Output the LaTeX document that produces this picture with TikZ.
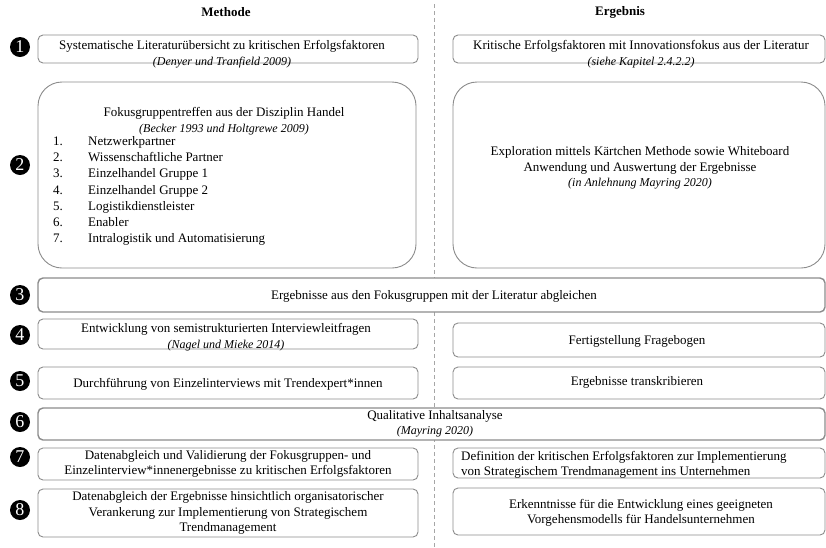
\documentclass[tikz,border=0pt]{standalone}
\usepackage{fontspec}
\setmainfont{Liberation Serif}
\definecolor{boxgray}{HTML}{8C8C8C}
\definecolor{dashgray}{HTML}{A6A6A6}
\newcommand\quelle[1]{{\fontsize{12}{14}\selectfont\itshape #1}}
\begin{document}
\begin{tikzpicture}[x=1pt,y=-1pt,
  box/.style={draw=boxgray, line width=0.9pt, rounded corners=5pt, fill=white,
    inner sep=0pt, minimum width=#1},
  box/.default=380pt,
  bigbox/.style={box=#1, rounded corners=24pt},
  widebox/.style={box=787pt, line width=1.4pt},
  txt/.style={font=\fontsize{13}{15.5}\selectfont, align=center, inner sep=0pt},
  head/.style={font=\fontsize{13}{15}\selectfont\bfseries, inner sep=0pt},
  marker/.style={circle, fill=black, minimum size=20pt, inner sep=0pt,
    text=white, font=\fontsize{18}{18}\selectfont},
  divider/.style={draw=dashgray, line width=1pt, dash pattern=on 4pt off 3pt},
]
% canvas
\path[fill=white, use as bounding box] (0,0) rectangle (826,547);

% column divider
\coordinate (dtop) at (434,4);
\coordinate (dbot) at (434,547);
\draw[divider] (dtop) -- (dbot);

% column headings
\node[head] (hm) at (226,12) {Methode};
\node[head] (he) at (620,12) {Ergebnis};

% step markers
\foreach \n/\y in {1/47,2/165,3/295,4/335,5/381,6/422,7/457,8/510}
  \node[marker] (n\n) at (20,\y) {\n};

% row 1
\node[box, minimum height=28pt] (m1) at (228,49) {};
\node[box=372pt, minimum height=28pt] (e1) at (639,49) {};
\node[txt] (tm1) at (222,54) {Systematische Literaturübersicht zu kritischen Erfolgsfaktoren\\
  \quelle{(Denyer und Tranfield 2009)}};
\node[txt] (te1) at (641,54) {Kritische Erfolgsfaktoren mit Innovationsfokus aus der Literatur\\
  \quelle{(siehe Kapitel 2.4.2.2)}};

% row 2
\node[bigbox=378pt, minimum height=186pt] (m2) at (227,175) {};
\node[bigbox=372pt, minimum height=186pt] (e2) at (639,175) {};
\node[txt] (tm2) at (224,121) {Fokusgruppentreffen aus der Disziplin Handel\\
  \quelle{(Becker 1993 und Holtgrewe 2009)}};
\node[txt, align=left, anchor=west, font=\fontsize{13}{16.2}\selectfont] (lm2) at (53,191)
  {\makebox[35pt][l]{1.}Netzwerkpartner\\
   \makebox[35pt][l]{2.}Wissenschaftliche Partner\\
   \makebox[35pt][l]{3.}Einzelhandel Gruppe 1\\
   \makebox[35pt][l]{4.}Einzelhandel Gruppe 2\\
   \makebox[35pt][l]{5.}Logistikdienstleister\\
   \makebox[35pt][l]{6.}Enabler\\
   \makebox[35pt][l]{7.}Intralogistik und Automatisierung};
\node[txt] (te2) at (640,168) {Exploration mittels Kärtchen Methode sowie Whiteboard\\
  Anwendung und Auswertung der Ergebnisse\\
  \quelle{(in Anlehnung Mayring 2020)}};

% row 3
\node[widebox, minimum height=34pt] (m3) at (431.5,295) {};
\node[txt] (t3) at (434,296) {Ergebnisse aus den Fokusgruppen mit der Literatur abgleichen};

% row 4
\node[box, minimum height=30pt] (m4) at (228,334) {};
\node[box=372pt, minimum height=34pt] (e4) at (639,340) {};
\node[txt] (tm4) at (226,337) {Entwicklung von semistrukturierten Interviewleitfragen\\
  \quelle{(Nagel und Mieke 2014)}};
\node[txt] (te4) at (637,341) {Fertigstellung Fragebogen};

% row 5
\node[box, minimum height=32pt] (m5) at (228,383) {};
\node[box=372pt, minimum height=32pt] (e5) at (639,383) {};
\node[txt] (tm5) at (228,384) {Durchführung von Einzelinterviews mit Trendexpert*innen};
\node[txt] (te5) at (637,382) {Ergebnisse transkribieren};

% row 6
\node[widebox, minimum height=32pt] (m6) at (431.5,424) {};
\node[txt] (t6) at (435,424) {Qualitative Inhaltsanalyse\\ \quelle{(Mayring 2020)}};

% row 7
\node[box, minimum height=32pt] (m7) at (228,464) {};
\node[box=372pt, minimum height=30pt] (e7) at (639,463) {};
\node[txt] (tm7) at (228,464) {Datenabgleich und Validierung der Fokusgruppen- und\\
  Einzelinterview*innenergebnisse zu kritischen Erfolgsfaktoren};
\node[txt, align=left, anchor=west] (te7) at (461,465)
  {Definition der kritischen Erfolgsfaktoren zur Implementierung\\
   von Strategischem Trendmanagement ins Unternehmen};

% row 8
\node[box, minimum height=48pt] (m8) at (228,513) {};
\node[box=372pt, minimum height=47pt] (e8) at (639,511.5) {};
\node[txt] (tm8) at (228,513) {Datenabgleich der Ergebnisse hinsichtlich organisatorischer\\
  Verankerung zur Implementierung von Strategischem\\ Trendmanagement};
\node[txt] (te8) at (641,513) {Erkenntnisse für die Entwicklung eines geeigneten\\
  Vorgehensmodells für Handelsunternehmen};
\end{tikzpicture}
\end{document}
